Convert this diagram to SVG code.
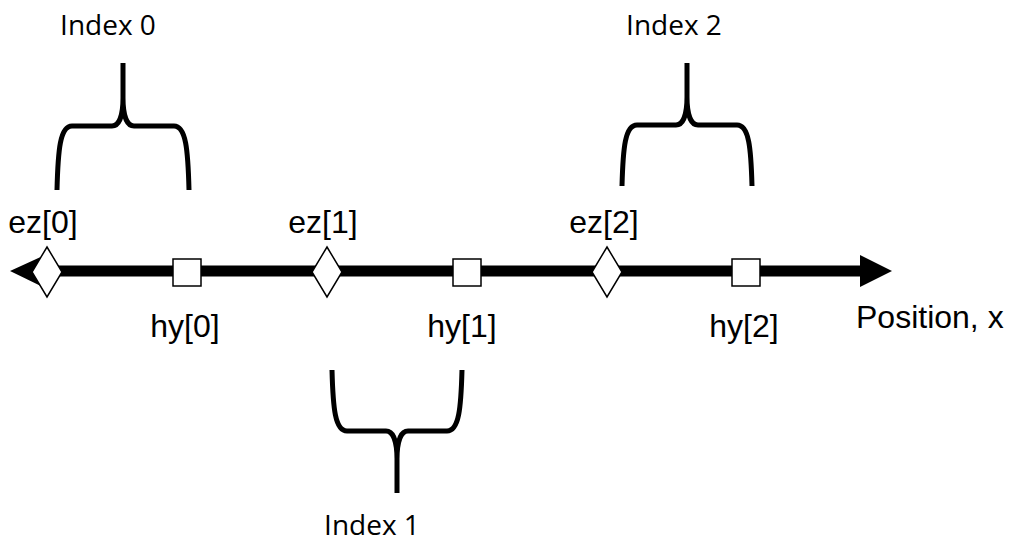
<svg xmlns="http://www.w3.org/2000/svg" width="1019" height="545" viewBox="0 0 1019 545">
<style>
.lbl{font-family:"Liberation Sans",Arial,sans-serif;font-size:32px;fill:#000;text-anchor:middle}
.idx{font-family:"Open Sans","Liberation Sans",sans-serif;font-size:28px;fill:#000;text-anchor:middle}
.brace{fill:none;stroke:#000;stroke-width:5;stroke-linejoin:round}
.ez{fill:#fff;stroke:#000;stroke-width:1.5}
.hy{fill:#fff;stroke:#000;stroke-width:1.5}
</style>
<defs>
<path id="diamond" d="M0,-25 L15,0 L0,25 L-15,0 Z"/>
</defs>
<rect width="1019" height="545" fill="#fff"/>
<g id="connectors">
<line x1="40" y1="271" x2="865" y2="271" stroke="#000" stroke-width="11"/>
<polygon points="10,271 45,255 45,288" fill="#000"/>
<polygon points="892,271 860,255 860,287" fill="#000"/>
</g>
<g id="ez0"><use href="#diamond" class="ez" x="47" y="272"/><text class="lbl" x="43" y="233">ez[0]</text></g>
<g id="hy0"><rect class="hy" x="173" y="259" width="28" height="27"/><text class="lbl" x="185" y="337">hy[0]</text></g>
<g id="ez1"><use href="#diamond" class="ez" x="327" y="272"/><text class="lbl" x="323" y="233">ez[1]</text></g>
<g id="hy1"><rect class="hy" x="453" y="259" width="28" height="27"/><text class="lbl" x="462" y="337">hy[1]</text></g>
<g id="ez2"><use href="#diamond" class="ez" x="607" y="272"/><text class="lbl" x="604" y="233">ez[2]</text></g>
<g id="hy2"><rect class="hy" x="732" y="259" width="28" height="27"/><text class="lbl" x="744" y="337">hy[2]</text></g>
<g id="axis-label"><text class="lbl" x="856" y="328" style="text-anchor:start">Position, x</text></g>
<g id="index0">
<path class="brace" d="M57,190 C58,150 60,126 72,126 L112,126 C119,126 123,116 123,98 L123,63 M123,98 C123,116 127,126 134,126 L174,126 C186,126 188,150 189,190"/>
<text class="idx" x="108" y="35">Index 0</text>
</g>
<g id="index2">
<path class="brace" d="M622,186 C623,148 625,125 637,125 L676,125 C683,125 687,115 687,97 L687,63 M687,97 C687,115 691,125 698,125 L737,125 C749,125 751,148 752,186"/>
<text class="idx" x="674" y="35">Index 2</text>
</g>
<g id="index1">
<path class="brace" d="M332,370 C333,408 335,431 347,431 L386,431 C393,431 397,441 397,459 L397,493 M397,459 C397,441 401,431 408,431 L447,431 C459,431 461,408 462,370"/>
<text class="idx" x="372" y="535">Index 1</text>
</g>
</svg>
